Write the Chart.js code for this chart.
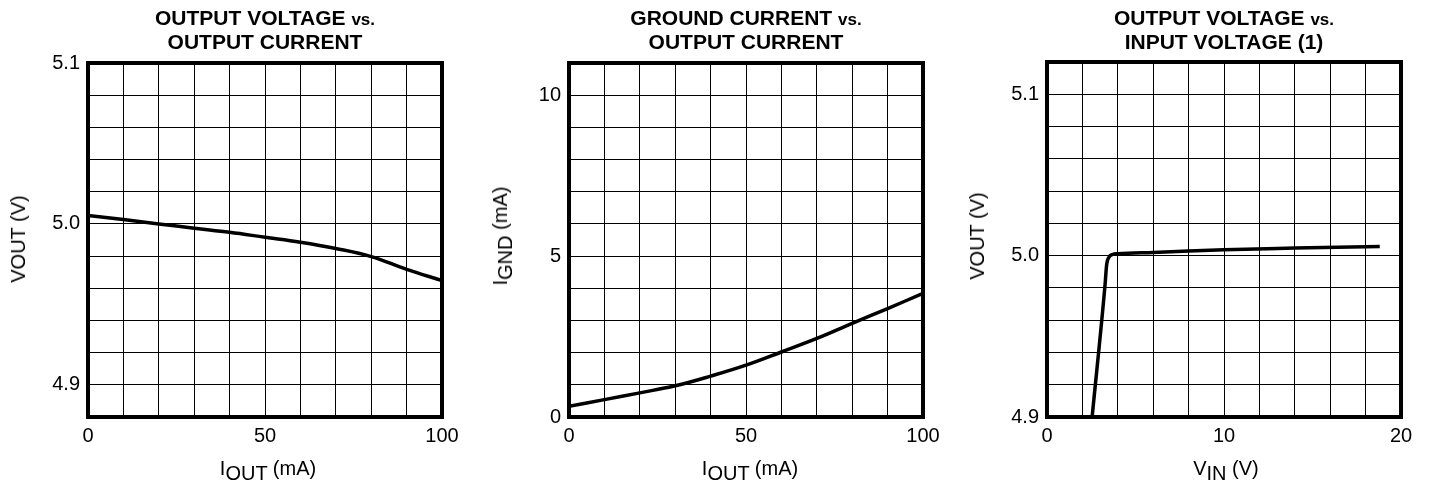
<!DOCTYPE html>
<html>
<head>
<meta charset="utf-8">
<title>Typical characteristics</title>
<script src="https://cdn.jsdelivr.net/npm/chart.js@4.4.0/dist/chart.umd.min.js"></script>
<style>
  html, body { margin: 0; padding: 0; background: #fff; }
  body {
    width: 1429px; height: 484px; position: relative; overflow: hidden;
    font-family: "Liberation Sans", Arial, sans-serif; color: #000;
  }
  .panel { position: absolute; top: 0; height: 484px; }
  .title {
    position: absolute; top: 7px; width: 400px; margin-left: -200px;
    text-align: center; font-weight: bold; font-size: 21px; line-height: 21.5px;
  }
  .title .vs { font-size: 17px; }
  .xlabel {
    position: absolute; top: 458px; width: 200px; margin-left: -100px;
    text-align: center; font-size: 20px; line-height: 20px; white-space: nowrap;
  }
  .ylabel {
    position: absolute; font-size: 20px; line-height: 20px; white-space: nowrap;
    transform: translate(-50%, -50%) rotate(-90deg);
  }
  .sub { position: relative; top: 5px; }
</style>
</head>
<body>

<div class="panel" style="left:0;width:475px"><canvas id="chartVoutIout"></canvas></div>
<div class="panel" style="left:475px;width:480px"><canvas id="chartIgndIout"></canvas></div>
<div class="panel" style="left:955px;width:474px"><canvas id="chartVoutVin"></canvas></div>

<div class="title" style="left:265px">OUTPUT VOLTAGE <span class="vs">vs.</span><br>OUTPUT CURRENT</div>
<div class="title" style="left:746px">GROUND CURRENT <span class="vs">vs.</span><br>OUTPUT CURRENT</div>
<div class="title" style="left:1224px">OUTPUT VOLTAGE <span class="vs">vs.</span><br>INPUT VOLTAGE (1)</div>

<div class="xlabel" style="left:268px">I<span class="sub">OUT</span> (mA)</div>
<div class="xlabel" style="left:750px">I<span class="sub">OUT</span> (mA)</div>
<div class="xlabel" style="left:1226px">V<span class="sub">IN</span> (V)</div>

<div class="ylabel" style="left:18px;top:239px">VOUT (V)</div>
<div class="ylabel" style="left:500px;top:236px">I<span class="sub">GND</span> (mA)</div>
<div class="ylabel" style="left:977px;top:236px">VOUT (V)</div>

<script>
// Values
const ioutMa = [0, 10, 20, 30, 40, 50, 60, 70, 80, 90, 100];
const voutVsIout = [5.0052, 5.0027, 5.0000, 4.9973, 4.9948, 4.9917, 4.9886, 4.9847, 4.9797, 4.9718, 4.9648];
const igndMa = [0.33, 0.54, 0.75, 0.97, 1.27, 1.61, 2.02, 2.44, 2.91, 3.37, 3.84];

const vinV = [2.55, 3.28, 3.37, 3.5, 3.7, 4.0, 6, 8, 10, 14, 18.8];
const voutVsVin = [4.900, 4.982, 4.9944, 4.999, 5.0007, 5.0012, 5.002, 5.0028, 5.0037, 5.0047, 5.0057];

// Labelled ticks (the other grid lines stay unlabelled)
const ioutTicks = [0, 50, 100];
const vinTicks = [0, 10, 20];
const voutTicks = [4.9, 5.0, 5.1];
const igndTicks = [0, 5, 10];

// Heavy frame round the plot area, drawn over the curve ends
const plotFrame = {
  id: 'plotFrame',
  afterDatasetsDraw(chart) {
    const { ctx, chartArea: a } = chart;
    ctx.save();
    ctx.strokeStyle = '#000';
    ctx.lineWidth = 4;
    ctx.strokeRect(a.left, a.top, a.right - a.left, a.bottom - a.top);
    ctx.restore();
  }
};

// Linear axis with a grid line every `step`, labels only where listed
function axisOptions(min, max, step, labels, decimals, isY, size) {
  return {
    type: 'linear',
    min: min,
    max: max,
    afterBuildTicks: scale => {
      const ticks = [];
      const n = Math.round((max - min) / step);
      for (let i = 0; i <= n; i++) {
        ticks.push({ value: +(min + i * step).toFixed(4) });
      }
      scale.ticks = ticks;
    },
    afterFit: scale => {
      if (isY) scale.width = size;
      else scale.height = size;
    },
    grid: { color: '#000', lineWidth: 1, drawTicks: false },
    border: { display: false },
    ticks: {
      autoSkip: false,
      maxRotation: 0,
      padding: isY ? 8 : 7,
      color: '#000',
      font: { family: 'Liberation Sans', size: 20 },
      callback: value => {
        const hit = labels.find(l => Math.abs(l - value) < step / 10);
        return hit === undefined ? '' : hit.toFixed(decimals);
      }
    }
  };
}

function toPoints(xs, ys) {
  return xs.map((x, i) => ({ x: x, y: ys[i] }));
}

// mode: 'default' gives a smooth spline, 'monotone' keeps the sharp knee
function makeChart(canvasId, xs, ys, mode, xAxis, yAxis, padding) {
  const ctx = document.getElementById(canvasId);
  return new Chart(ctx, {
    type: 'scatter',
    data: {
      datasets: [{
        data: toPoints(xs, ys),
        showLine: true,
        borderColor: '#000',
        borderWidth: 3.5,
        pointRadius: 0,
        cubicInterpolationMode: mode,
        tension: 0.4,
        fill: false
      }]
    },
    options: {
      responsive: true,
      maintainAspectRatio: false,
      animation: false,
      layout: { padding: padding },
      plugins: {
        legend: { display: false },
        tooltip: { enabled: false }
      },
      scales: { x: xAxis, y: yAxis }
    },
    plugins: [plotFrame]
  });
}

makeChart('chartVoutIout', ioutMa, voutVsIout, 'default',
  axisOptions(0, 100, 10, ioutTicks, 0, false, 40),
  axisOptions(4.88, 5.1, 0.02, voutTicks, 1, true, 88),
  { left: 0, top: 63, right: 33, bottom: 27 });

makeChart('chartIgndIout', ioutMa, igndMa, 'default',
  axisOptions(0, 100, 10, ioutTicks, 0, false, 40),
  axisOptions(0, 11, 1, igndTicks, 0, true, 94),
  { left: 0, top: 63, right: 32, bottom: 27 });

makeChart('chartVoutVin', vinV, voutVsVin, 'monotone',
  axisOptions(0, 20, 2, vinTicks, 0, false, 40),
  axisOptions(4.9, 5.12, 0.02, voutTicks, 1, true, 92),
  { left: 0, top: 62, right: 28, bottom: 27 });
</script>
</body>
</html>
